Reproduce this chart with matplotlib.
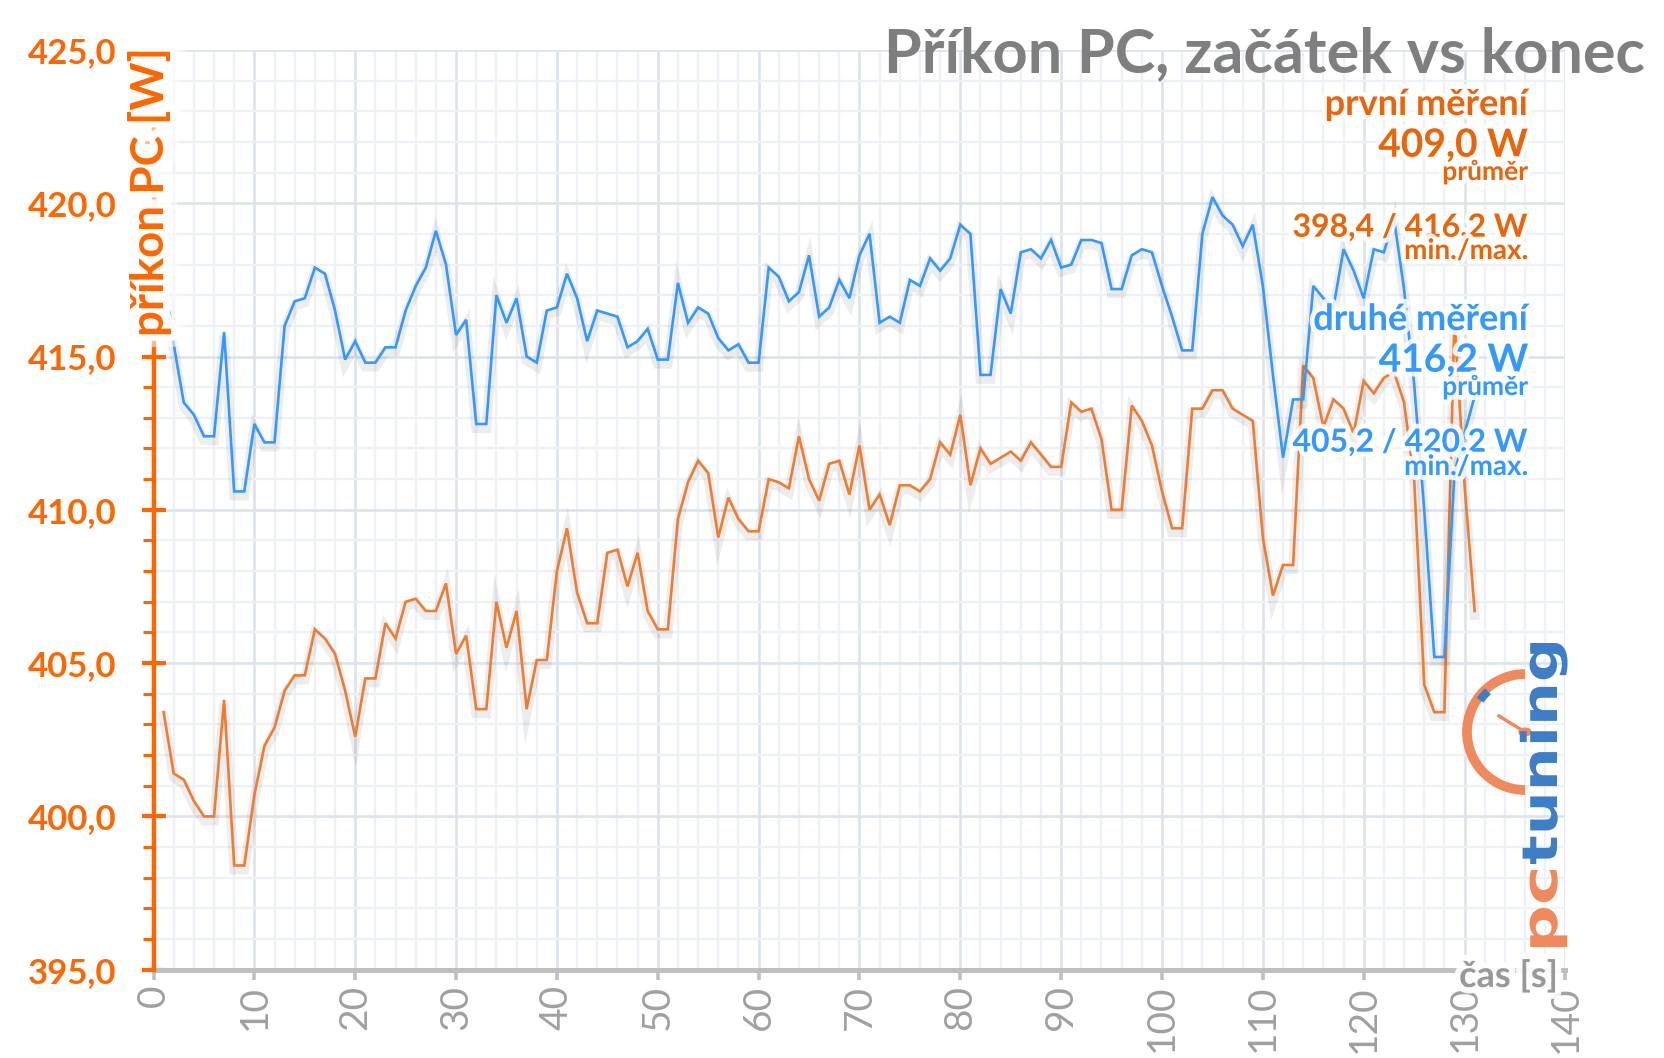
import matplotlib
matplotlib.use("Agg")
import matplotlib.pyplot as plt
import matplotlib.patheffects as pe
from matplotlib.ticker import MultipleLocator
from matplotlib.patches import Arc, Circle, PathPatch
from matplotlib.textpath import TextPath
from matplotlib.font_manager import FontProperties
from matplotlib.transforms import Affine2D

plt.rcParams['font.family'] = ['Lato', 'DejaVu Sans']

# ---------------- data ----------------
cas = list(range(1, 132))
prvni = [403.4, 401.4, 401.2, 400.5, 400.0, 400.0, 403.8, 398.4, 398.4, 400.7,
         402.3, 402.9, 404.1, 404.6, 404.6, 406.1, 405.8, 405.3, 404.1, 402.6,
         404.5, 404.5, 406.3, 405.8, 407.0, 407.1, 406.7, 406.7, 407.6, 405.3,
         405.9, 403.5, 403.5, 407.0, 405.5, 406.7, 403.5, 405.1, 405.1, 408.0,
         409.4, 407.3, 406.3, 406.3, 408.6, 408.7, 407.5, 408.6, 406.7, 406.1,
         406.1, 409.7, 410.9, 411.6, 411.2, 409.1, 410.4, 409.7, 409.3, 409.3,
         411.0, 410.9, 410.7, 412.4, 411.0, 410.3, 411.5, 411.6, 410.5, 412.1,
         410.0, 410.5, 409.5, 410.8, 410.8, 410.6, 411.0, 412.2, 411.8, 413.1,
         410.8, 412.0, 411.5, 411.7, 411.9, 411.6, 412.2, 411.8, 411.4, 411.4,
         413.5, 413.2, 413.3, 412.3, 410.0, 410.0, 413.4, 412.9, 412.1, 410.6,
         409.4, 409.4, 413.3, 413.3, 413.9, 413.9, 413.3, 413.1, 412.9, 409.1,
         407.2, 408.2, 408.2, 414.7, 414.3, 412.7, 413.6, 413.3, 412.5, 414.2,
         413.8, 414.3, 414.5, 413.5, 411.0, 404.3, 403.4, 403.4, 416.2, 410.8,
         406.7]
druhe = [418.0, 415.4, 413.5, 413.1, 412.4, 412.4, 415.8, 410.6, 410.6, 412.8,
         412.2, 412.2, 416.0, 416.8, 416.9, 417.9, 417.7, 416.5, 414.9, 415.5,
         414.8, 414.8, 415.3, 415.3, 416.5, 417.3, 417.9, 419.1, 418.0, 415.7,
         416.2, 412.8, 412.8, 417.0, 416.1, 416.9, 415.0, 414.8, 416.5, 416.6,
         417.7, 416.9, 415.5, 416.5, 416.4, 416.3, 415.3, 415.5, 415.9, 414.9,
         414.9, 417.4, 416.1, 416.6, 416.4, 415.6, 415.2, 415.4, 414.8, 414.8,
         417.9, 417.6, 416.8, 417.1, 418.3, 416.3, 416.6, 417.5, 416.9, 418.3,
         419.0, 416.1, 416.3, 416.1, 417.5, 417.3, 418.2, 417.8, 418.2, 419.3,
         419.0, 414.4, 414.4, 417.2, 416.4, 418.4, 418.5, 418.2, 418.8, 417.9,
         418.0, 418.8, 418.8, 418.7, 417.2, 417.2, 418.3, 418.5, 418.4, 417.3,
         416.3, 415.2, 415.2, 419.0, 420.2, 419.6, 419.3, 418.6, 419.3, 417.3,
         414.4, 411.7, 413.6, 413.6, 417.3, 416.9, 416.6, 418.5, 417.8, 416.9,
         418.5, 418.4, 419.5, 417.2, 414.1, 410.0, 405.2, 405.2, 411.2, 412.5,
         413.7]
y_ticks = [395.0, 400.0, 405.0, 410.0, 415.0, 420.0, 425.0]
y_tick_labels = ["395,0", "400,0", "405,0", "410,0", "415,0", "420,0", "425,0"]
x_ticks = [0, 10, 20, 30, 40, 50, 60, 70, 80, 90, 100, 110, 120, 130, 140]
x_tick_labels = [str(v) for v in x_ticks]

title = "Příkon PC, začátek vs konec"
ylabel = "příkon PC [W]"
xlabel = "čas [s]"
ann_prvni = ["první měření", "409,0 W", "průměr", "398,4 / 416,2 W", "min./max."]
ann_druhe = ["druhé měření", "416,2 W", "průměr", "405,2 / 420,2 W", "min./max."]

# ---------------- figure ----------------
W, H = 1665, 1058
fig = plt.figure(figsize=(W / 100, H / 100), dpi=100)
x0, x1, ytop, ybot = 153.5, 1565.4, 49.9, 969.7
ax = fig.add_axes([x0 / W, 1 - ybot / H, (x1 - x0) / W, (ybot - ytop) / H])


def fx(px):
    return px / W


def fy(py):
    return 1 - py / H


ORANGE_AX = '#FF6600'
ORANGE_TXT = '#EB640A'
ORANGE_LINE = '#ED7D31'
BLUE = '#3399FF'
GRAY_AX = '#BFBFBF'

ax.set_xlim(0, 140)
ax.set_ylim(395, 425)
ax.set_xticks(x_ticks)
ax.set_xticklabels(x_tick_labels)
ax.xaxis.set_minor_locator(MultipleLocator(2))
ax.set_yticks(y_ticks)
ax.set_yticklabels(y_tick_labels, fontweight='bold')
ax.yaxis.set_minor_locator(MultipleLocator(1))

ax.grid(which='minor', color='#eef1f5', lw=1.7, zorder=0)
ax.grid(which='major', color='#dde3eb', lw=1.9, zorder=0)
ax.set_axisbelow(True)

for s in ('top', 'right'):
    ax.spines[s].set_visible(False)
ax.spines['left'].set_color(ORANGE_AX)
ax.spines['left'].set_linewidth(3.2)
ax.spines['left'].set_zorder(5)
ax.spines['bottom'].set_color(GRAY_AX)
ax.spines['bottom'].set_linewidth(3.6)

ax.tick_params(axis='y', which='major', direction='inout', length=17, width=3,
               color=ORANGE_AX, labelcolor=ORANGE_AX, labelsize=25, pad=18)
ax.tick_params(axis='y', which='minor', direction='out', length=8, width=2.2,
               color=ORANGE_AX)
ax.tick_params(axis='x', which='major', direction='out', length=7, width=2.6,
               color=GRAY_AX, labelcolor='#A0A0A0', labelsize=28, pad=4,
               labelrotation=90)
ax.tick_params(axis='x', which='minor', length=0)

shadow = [pe.SimpleLineShadow(offset=(0, -3), shadow_color='black', alpha=0.07, linewidth=7),
          pe.Normal()]
ax.plot(cas, prvni, color=ORANGE_LINE, lw=1.9, zorder=3, path_effects=shadow,
        solid_joinstyle='miter')
ax.plot(cas, druhe, color=BLUE, lw=1.9, zorder=3, path_effects=shadow,
        solid_joinstyle='miter')

halo = [pe.withStroke(linewidth=7, foreground='white', alpha=0.85)]

# y label inside the plot: soft white glow layer + plain orange text
ykw = dict(rotation=90, rotation_mode='anchor', ha='right', va='baseline',
           fontsize=33, fontweight='bold', zorder=10)
fig.text(fx(164), fy(47), ylabel, color='white',
         path_effects=[pe.Stroke(linewidth=20, foreground='white', alpha=0.55),
                       pe.Stroke(linewidth=11, foreground='white', alpha=0.95)], **ykw)
fig.text(fx(164), fy(47), ylabel, color=ORANGE_AX, **ykw)

# x label
fig.text(fx(1558), fy(987), xlabel, ha='right', va='baseline', fontsize=26,
         fontweight='bold', color='#999999',
         path_effects=[pe.withStroke(linewidth=9, foreground='white', alpha=0.9)],
         zorder=10)

# title
fig.text(fx(1645), fy(71.7), title, ha='right', va='baseline', fontsize=44,
         fontweight='bold', color='#7F7F7F', zorder=10)

# annotations
xr = fx(1528)
specs = [(115, 26), (156.7, 28), (180, 19), (236.7, 23), (259, 20)]
for (yb, fs), txt in zip(specs, ann_prvni):
    fig.text(xr, fy(yb), txt, ha='right', va='baseline', fontsize=fs,
             fontweight='bold', color=ORANGE_TXT, path_effects=halo, zorder=10)
specs2 = [(330, 26), (371.7, 28), (395, 19), (451.7, 23), (475, 20)]
for (yb, fs), txt in zip(specs2, ann_druhe):
    fig.text(xr, fy(yb), txt, ha='right', va='baseline', fontsize=fs,
             fontweight='bold', color=BLUE, path_effects=halo, zorder=10)

# logo (pctuning)
logo_o = '#F08A5D'
logo_b = '#3E7EC6'
cx, cy, r = 1525, 732, 58
arc = Arc((fx(cx), fy(cy)), 2 * r / W, 2 * r / H, theta1=90, theta2=270,
          transform=fig.transFigure, color=logo_o, lw=7, zorder=8)
fig.add_artist(arc)
arc2 = Arc((fx(cx), fy(cy)), 2 * (r - 3) / W, 2 * (r - 3) / H, theta1=120, theta2=132,
           transform=fig.transFigure, color=logo_b, lw=6, zorder=9)
fig.add_artist(arc2)
fig.add_artist(plt.Line2D([fx(cx), fx(1499)], [fy(cy), fy(716)],
                          transform=fig.transFigure, color=logo_o, lw=2.5, zorder=9))
fig.add_artist(Circle((fx(cx), fy(cy)), 6 / W, transform=fig.transFigure,
                      color=logo_o, zorder=9))

fp = FontProperties(family='DejaVu Sans', weight='bold')


def logo_word(word, y_bottom, y_top, color, x_base=1557, size=49):
    tp = TextPath((0, 0), word, size=size, prop=fp)
    ext = tp.get_extents()
    sx = (y_bottom - y_top) / ext.width
    tr = (Affine2D().translate(-ext.x0, 0).scale(sx, 1).rotate_deg(90)
          .translate(x_base, H - y_bottom))
    patch = PathPatch(tp, transform=tr, facecolor=color, edgecolor='none', zorder=9)
    fig.add_artist(patch)


logo_word("pc", 947, 870, logo_o)
logo_word("tuning", 864, 643, logo_b)

fig.savefig("out.png", dpi=100, facecolor='white')
